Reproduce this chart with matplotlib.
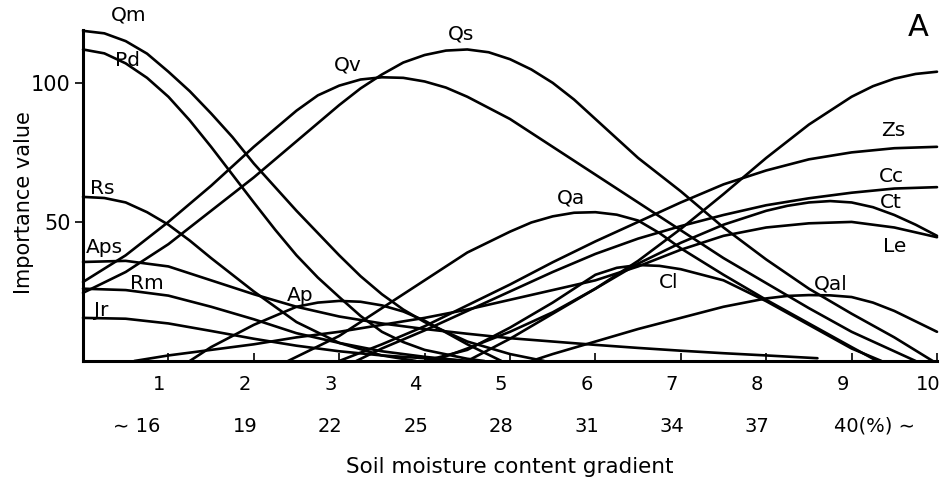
import numpy as np
import matplotlib
matplotlib.use("Agg")
import matplotlib.pyplot as plt
from matplotlib.transforms import ScaledTranslation

# ---- data: (soil moisture gradient step, importance value) ----
QM = [(0, 118.7), (0.25, 117.8), (0.5, 115), (0.75, 110.5), (1, 104), (1.25, 97), (1.5, 89),
      (1.75, 80.5), (2, 71), (2.25, 62.5), (2.5, 54), (2.75, 46), (3, 38), (3.25, 30.5),
      (3.5, 24), (3.75, 18.5), (4, 14), (4.5, 7), (5, 2.5), (5.4, 0)]
PD = [(0, 112), (0.25, 110.6), (0.5, 107), (0.75, 101.8), (1, 95), (1.25, 86.5), (1.5, 77),
      (1.75, 67), (2, 57), (2.25, 47.2), (2.5, 38), (2.75, 30), (3, 23), (3.25, 16.2),
      (3.5, 10.5), (3.75, 6.8), (4, 4), (4.5, 0.8), (4.7, 0)]
RS = [(0, 59), (0.25, 58.6), (0.5, 57), (0.75, 53.5), (1, 49), (1.25, 43.3), (1.5, 37),
      (2, 25), (2.5, 14), (3, 6.5), (3.5, 2), (3.9, 0)]
RM = [(0, 26), (0.5, 25.5), (1, 23.5), (1.5, 19.5), (2, 15), (2.5, 10), (3, 6.5), (3.5, 3.5),
      (4, 1.5), (4.5, 0)]
JR = [(0, 15.5), (0.5, 15.2), (1, 13.5), (1.5, 10.8), (2, 8), (2.5, 5.5), (3, 3.5), (3.5, 2),
      (4, 1), (4.5, 0)]
APS = [(0, 35.6), (0.5, 36), (1, 34), (1.5, 29), (2, 24), (2.5, 19.5), (3, 16), (3.5, 13.5),
       (4, 11.5), (4.5, 9.8), (5, 8.2), (5.5, 7), (6, 5.8), (6.5, 4.7), (7, 3.7), (7.5, 2.8),
       (8, 2), (8.6, 1)]
AP = [(1.25, 0), (1.5, 5), (2, 13), (2.5, 19.5), (2.75, 21), (3, 21.6), (3.25, 21.3),
      (3.5, 20), (3.75, 17.8), (4, 14.5), (4.5, 6), (4.9, 0)]
QV = [(0, 28.4), (0.5, 38), (1, 50), (1.5, 63), (2, 77), (2.5, 90), (2.75, 95.5), (3, 99),
      (3.25, 101.2), (3.5, 102), (3.75, 101.8), (4, 100.5), (4.25, 98.3), (4.5, 95), (5, 87),
      (5.5, 77), (6, 67), (6.5, 57), (7, 47), (7.5, 37), (8, 28), (8.5, 19), (9, 10.5),
      (9.5, 3.5), (9.75, 0)]
QS = [(0, 24.5), (0.5, 32), (1, 42), (1.5, 54), (2, 66), (2.5, 79), (3, 92), (3.25, 98),
      (3.5, 103), (3.75, 107.3), (4, 110), (4.25, 111.6), (4.5, 112), (4.75, 111),
      (5, 108.5), (5.25, 104.8), (5.5, 100), (5.75, 94), (6, 87), (6.25, 80), (6.5, 73),
      (7, 61), (7.5, 48), (8, 36.5), (8.5, 26), (9, 17), (9.5, 8.5), (9.95, 0)]
QA = [(2.4, 0), (3, 9), (3.5, 19), (4, 29), (4.5, 39), (5, 46.5), (5.25, 49.8), (5.5, 52),
      (5.75, 53.3), (6, 53.5), (6.25, 52.6), (6.5, 50.5), (6.75, 46), (7, 40.5), (7.5, 31),
      (8, 22), (8.5, 13.5), (9, 5), (9.3, 0)]
CL = [(4, 0), (4.5, 4), (5, 12), (5.5, 21), (6, 31), (6.25, 33.5), (6.5, 34.5), (6.75, 34.2),
      (7, 33), (7.5, 29), (8, 21.5), (8.5, 13), (9, 4.5), (9.35, 0)]
TOP = [(4.1, 0), (4.5, 4.5), (5, 10.5), (5.5, 17.5), (6, 26), (6.5, 36), (7, 47.5), (7.5, 60),
       (8, 73), (8.5, 85), (9, 95), (9.25, 98.8), (9.5, 101.5), (9.75, 103.2), (10, 104)]
ZS = [(3, 0), (3.5, 6), (4, 12.5), (4.5, 20), (5, 27.5), (5.5, 35.5), (6, 43), (6.5, 50),
      (7, 57), (7.5, 63.5), (8, 68.5), (8.5, 72.5), (9, 75), (9.5, 76.5), (10, 77)]
CC = [(3.2, 0), (3.5, 4.5), (4, 11), (4.5, 18), (5, 25), (5.5, 32), (6, 38.5), (6.5, 44),
      (7, 48.5), (7.5, 52.5), (8, 56), (8.5, 58.5), (9, 60.5), (9.5, 62), (10, 62.5)]
CT = [(4.5, 0), (5, 8), (5.5, 17), (6, 26), (6.5, 35), (7, 42.5), (7.5, 49), (8, 54),
      (8.25, 55.8), (8.5, 57), (8.75, 57.5), (9, 57), (9.25, 55.3), (9.5, 52.5), (9.75, 49),
      (10, 45)]
LE = [(0.6, 0), (1, 2), (1.5, 4), (2, 6), (2.5, 8.5), (3, 10.5), (3.5, 13), (4, 15.5),
      (4.5, 18.5), (5, 22), (5.5, 25.5), (6, 29), (6.5, 34), (7, 40), (7.5, 45), (8, 48),
      (8.5, 49.5), (9, 50), (9.5, 48), (10, 44.5)]
QAL = [(5.25, 0), (5.5, 2.5), (6, 7), (6.5, 11.5), (7, 15.5), (7.5, 19.5), (8, 22.5),
       (8.25, 23.4), (8.5, 23.7), (8.75, 23.6), (9, 23), (9.25, 21), (9.5, 18), (10, 10.5)]

SERIES = [QM, PD, RS, RM, JR, APS, AP, QV, QS, QA, CL, TOP, ZS, CC, CT, LE, QAL]

# curve labels (text, x, value)
LABELS = [("Qm", 0.53, 124.5), ("Pd", 0.52, 108), ("Rs", 0.23, 62), ("Aps", 0.25, 40.7),
          ("Rm", 0.75, 28), ("Jr", 0.21, 18.3), ("Ap", 2.54, 23.7), ("Qv", 3.1, 106.5),
          ("Qs", 4.43, 117.6), ("Qa", 5.72, 58.6), ("Cl", 6.86, 28.4), ("Qal", 8.76, 27.7),
          ("Zs", 9.49, 82.7), ("Cc", 9.47, 66.5), ("Ct", 9.46, 57), ("Le", 9.51, 41)]

XTICKS = list(range(1, 11))
XTICK_LABELS = [str(i) for i in XTICKS]
MOIST_POS = list(range(1, 10))
MOIST_LABELS = ["∼ 16", "19", "22", "25", "28", "31", "34", "37", "40(%) ∼"]
YTICKS = [50, 100]

plt.rcParams["font.family"] = ["DejaVu Sans"]

W, H, DPI = 941, 482, 100
fig = plt.figure(figsize=(W / DPI, H / DPI), dpi=DPI)
x0, x1, ybot, ytop = 83, 937, 361, 30
ax = fig.add_axes([x0 / W, 1 - ybot / H, (x1 - x0) / W, (ybot - ytop) / H])
ax.set_xlim(0, 10)
ax.set_ylim(0, 119)

for s in SERIES:
    xs = [p[0] for p in s]
    ys = [p[1] for p in s]
    ax.plot(xs, ys, color="black", lw=1.9, solid_joinstyle="round",
            solid_capstyle="round", clip_on=False)

for name, lx, ly in LABELS:
    ax.text(lx, ly, name, fontsize=14.5, ha="center", va="center", clip_on=False)

for sp in ["top", "right"]:
    ax.spines[sp].set_visible(False)
for sp in ["left", "bottom"]:
    ax.spines[sp].set_linewidth(2.2)

ax.set_xticks(XTICKS)
ax.set_xticklabels(XTICK_LABELS, fontsize=14)
ax.tick_params(axis="x", direction="in", length=6, width=1.2, pad=10)
ax.set_yticks(YTICKS)
ax.set_yticklabels([str(v) for v in YTICKS], fontsize=15)
ax.tick_params(axis="y", direction="out", length=6, width=1.2, pad=3)

shift = ScaledTranslation(-9 / DPI, 0, fig.dpi_scale_trans)
for lab in ax.get_xticklabels():
    lab.set_transform(lab.get_transform() + shift)

trans = ax.get_xaxis_transform() + shift
row2_y = -(426 - ybot) / (ybot - ytop)
for pos, txt in zip(MOIST_POS, MOIST_LABELS):
    if txt.startswith("∼"):
        ax.text(pos + 0.01, row2_y, txt, transform=trans, fontsize=14, ha="right", va="center")
    elif txt.endswith("∼"):
        ax.text(pos - 0.1, row2_y, txt, transform=trans, fontsize=14, ha="left", va="center")
    else:
        ax.text(pos, row2_y, txt, transform=trans, fontsize=14, ha="center", va="center")

fig.text(510 / W, 1 - 467 / H, "Soil moisture content gradient", fontsize=15.5,
         ha="center", va="center")
fig.text(24 / W, 1 - 203 / H, "Importance value", fontsize=15, rotation=90,
         ha="center", va="center")
fig.text(918 / W, 1 - 28 / H, "A", fontsize=22, ha="center", va="center")

fig.savefig("out.png", dpi=DPI)
